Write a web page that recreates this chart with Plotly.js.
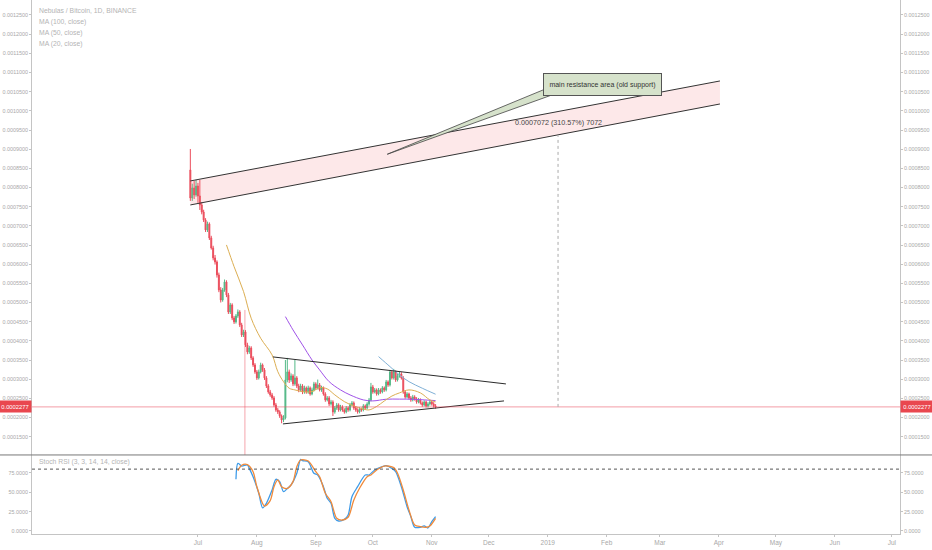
<!DOCTYPE html>
<html><head><meta charset="utf-8">
<script src="https://cdn.plot.ly/plotly-3.0.1.min.js"></script>
<style>html,body{margin:0;padding:0;background:#fff}#chart{width:932px;height:550px}</style>
</head><body><div id="chart"></div>
<script>
// ---- daily candles NAS/BTC, first day 2018-06-27 ----
const opens = [
8458e-7,7727e-7,7988e-7,7806e-7,8040e-7,7779e-7,7545e-7,7362e-7,7154e-7,6893e-7,
7050e-7,6684e-7,6423e-7,6163e-7,6058e-7,5719e-7,5328e-7,5067e-7,5328e-7,5537e-7,
5198e-7,4754e-7,4937e-7,4598e-7,4494e-7,4650e-7,4754e-7,4415e-7,4154e-7,4233e-7,
3894e-7,3711e-7,3815e-7,3555e-7,3372e-7,3190e-7,3033e-7,3190e-7,3372e-7,3242e-7,
3033e-7,2824e-7,2668e-7,2590e-7,2511e-7,2329e-7,2198e-7,2146e-7,2042e-7,1937e-7,
1990e-7,2981e-7,3190e-7,2981e-7,3085e-7,2877e-7,3033e-7,2824e-7,2720e-7,2824e-7,
2668e-7,2772e-7,2668e-7,2772e-7,2616e-7,2720e-7,2877e-7,2772e-7,2850e-7,2720e-7,
2772e-7,2616e-7,2459e-7,2511e-7,2355e-7,2407e-7,2146e-7,2250e-7,2329e-7,2198e-7,
2277e-7,2198e-7,2146e-7,2250e-7,2198e-7,2329e-7,2381e-7,2250e-7,2198e-7,2146e-7,
2224e-7,2198e-7,2303e-7,2250e-7,2355e-7,2459e-7,2798e-7,2668e-7,2720e-7,2616e-7,
2720e-7,2668e-7,2772e-7,2720e-7,2929e-7,2850e-7,3190e-7,3033e-7,3190e-7,2981e-7,
3085e-7,3137e-7,3033e-7,2668e-7,2537e-7,2616e-7,2511e-7,2459e-7,2537e-7,2485e-7,
2407e-7,2459e-7,2381e-7,2329e-7,2407e-7,2303e-7,2355e-7,2407e-7,2355e-7,2303e-7];
const highs = [
9005e-7,8100e-7,8171e-7,8197e-7,8120e-7,8197e-7,7620e-7,7420e-7,7200e-7,7110e-7,
7090e-7,6740e-7,6480e-7,6240e-7,6100e-7,5780e-7,5400e-7,5380e-7,5600e-7,5580e-7,
5250e-7,4990e-7,4980e-7,4650e-7,4700e-7,4820e-7,4800e-7,4470e-7,4290e-7,4280e-7,
3950e-7,3870e-7,3860e-7,3600e-7,3420e-7,3240e-7,3250e-7,3430e-7,3410e-7,3290e-7,
3080e-7,2870e-7,2720e-7,2640e-7,2560e-7,2380e-7,2250e-7,2190e-7,2080e-7,2060e-7,
3500e-7,3555e-7,3250e-7,3150e-7,3130e-7,3500e-7,3080e-7,2880e-7,2880e-7,2870e-7,
2830e-7,2810e-7,2830e-7,2810e-7,2780e-7,2930e-7,2920e-7,2990e-7,2900e-7,2830e-7,
2810e-7,2660e-7,2560e-7,2560e-7,2460e-7,2450e-7,2300e-7,2380e-7,2370e-7,2330e-7,
2320e-7,2240e-7,2300e-7,2290e-7,2380e-7,2430e-7,2420e-7,2290e-7,2240e-7,2270e-7,
2260e-7,2350e-7,2340e-7,2400e-7,2510e-7,2903e-7,2850e-7,2770e-7,2760e-7,2770e-7,
2760e-7,2820e-7,2810e-7,2980e-7,2970e-7,3242e-7,3230e-7,3268e-7,3230e-7,3140e-7,
3190e-7,3180e-7,3080e-7,2710e-7,2660e-7,2650e-7,2560e-7,2590e-7,2580e-7,2530e-7,
2510e-7,2500e-7,2420e-7,2450e-7,2440e-7,2400e-7,2450e-7,2440e-7,2400e-7,2350e-7];
const lows = [
7650e-7,7650e-7,7700e-7,7760e-7,7600e-7,7414e-7,7300e-7,7100e-7,6840e-7,6840e-7,
6630e-7,6380e-7,6100e-7,5990e-7,5650e-7,5270e-7,5000e-7,5020e-7,5280e-7,5140e-7,
4700e-7,4700e-7,4540e-7,4440e-7,4450e-7,4600e-7,4360e-7,4100e-7,4100e-7,3840e-7,
3650e-7,3660e-7,3500e-7,3320e-7,3140e-7,2980e-7,2990e-7,3150e-7,3190e-7,2980e-7,
2770e-7,2620e-7,2540e-7,2460e-7,2280e-7,2150e-7,2090e-7,1990e-7,1850e-7,1880e-7,
1950e-7,2920e-7,2900e-7,2930e-7,2820e-7,2830e-7,2770e-7,2660e-7,2680e-7,2610e-7,
2620e-7,2620e-7,2620e-7,2570e-7,2580e-7,2680e-7,2720e-7,2730e-7,2680e-7,2670e-7,
2570e-7,2410e-7,2420e-7,2300e-7,2310e-7,2040e-7,2100e-7,2200e-7,2150e-7,2160e-7,
2150e-7,2100e-7,2110e-7,2150e-7,2160e-7,2290e-7,2200e-7,2150e-7,2100e-7,2110e-7,
2150e-7,2160e-7,2200e-7,2210e-7,2310e-7,2420e-7,2620e-7,2630e-7,2570e-7,2580e-7,
2620e-7,2630e-7,2670e-7,2680e-7,2800e-7,2810e-7,2990e-7,2990e-7,2930e-7,2940e-7,
3040e-7,2990e-7,2620e-7,2490e-7,2500e-7,2470e-7,2410e-7,2420e-7,2440e-7,2360e-7,
2370e-7,2340e-7,2280e-7,2290e-7,2260e-7,2260e-7,2310e-7,2310e-7,2260e-7,2230e-7];
const closes = [
7727e-7,7988e-7,7806e-7,8040e-7,7779e-7,7545e-7,7362e-7,7154e-7,6893e-7,7050e-7,
6684e-7,6423e-7,6163e-7,6058e-7,5719e-7,5328e-7,5067e-7,5328e-7,5537e-7,5198e-7,
4754e-7,4937e-7,4598e-7,4494e-7,4650e-7,4754e-7,4415e-7,4154e-7,4233e-7,3894e-7,
3711e-7,3815e-7,3555e-7,3372e-7,3190e-7,3033e-7,3190e-7,3372e-7,3242e-7,3033e-7,
2824e-7,2668e-7,2590e-7,2511e-7,2329e-7,2198e-7,2146e-7,2042e-7,1937e-7,1990e-7,
2981e-7,3190e-7,2981e-7,3085e-7,2877e-7,3033e-7,2824e-7,2720e-7,2824e-7,2668e-7,
2772e-7,2668e-7,2772e-7,2616e-7,2720e-7,2877e-7,2772e-7,2850e-7,2720e-7,2772e-7,
2616e-7,2459e-7,2511e-7,2355e-7,2407e-7,2146e-7,2250e-7,2329e-7,2198e-7,2277e-7,
2198e-7,2146e-7,2250e-7,2198e-7,2329e-7,2381e-7,2250e-7,2198e-7,2146e-7,2224e-7,
2198e-7,2303e-7,2250e-7,2355e-7,2459e-7,2798e-7,2668e-7,2720e-7,2616e-7,2720e-7,
2668e-7,2772e-7,2720e-7,2929e-7,2850e-7,3190e-7,3033e-7,3190e-7,2981e-7,3085e-7,
3137e-7,3033e-7,2668e-7,2537e-7,2616e-7,2511e-7,2459e-7,2537e-7,2485e-7,2407e-7,
2459e-7,2381e-7,2329e-7,2407e-7,2303e-7,2355e-7,2407e-7,2355e-7,2303e-7,2277e-7];
const lastPrice = 0.0002277;

// ---- moving averages (day index -> value) ----
const ma20Idx = [19,23,28,32,37,43,46,49,52,55,59,64,68,72,76,81,86,91,94,98,102,106,110,115,121,126,129];
const ma20Val = [6502e-7,5936e-7,5284e-7,4590e-7,4068e-7,3633e-7,3197e-7,2936e-7,2764e-7,2720e-7,2676e-7,2676e-7,2780e-7,2746e-7,2590e-7,2415e-7,2300e-7,2220e-7,2198e-7,2290e-7,2430e-7,2560e-7,2642e-7,2720e-7,2642e-7,2459e-7,2407e-7];
const ma50Idx = [50,54,59,64,68,73,79,84,91,96,103,110,117,123,129];
const ma50Val = [4632e-7,4285e-7,3894e-7,3502e-7,3242e-7,2936e-7,2720e-7,2590e-7,2459e-7,2433e-7,2477e-7,2480e-7,2477e-7,2460e-7,2441e-7];
const ma100Idx = [99,105,110,115,122,129];
const ma100Val = [3589e-7,3328e-7,3111e-7,2936e-7,2764e-7,2608e-7];

// ---- Stoch RSI (3,3,14,14) ----
const kIdx = [24,25,27,30,31,33,36,38,40,43,45,47,49,51,53,56,58,59,62,65,67,70,72,74,76,78,81,83,85,88,92,94,97,101,103,106,108,111,114,116,118,121,123,125,127,129];
const kVal = [66.8,87.5,84,85.3,81,70,48.8,30,35.8,53,66.8,63.8,50.8,55,59.5,74.6,92.7,91,89.6,74.6,72.4,57.3,42.3,35.8,16.4,12.9,15,20.7,44.4,57.3,72.4,72.4,78.9,83.2,84.4,81,76.7,57.3,31.4,18.5,4.8,4.8,6.5,3.9,12,18.5];
const dIdx = [25,27,30,33,35,39,42,44,46,48,51,54,56,58,62,66,68,71,74,77,80,83,86,89,93,95,98,102,107,109,112,115,118,121,124,126,129];
const dVal = [78,85,85.8,76.7,57.3,32.3,39.2,57.3,66,57.3,55,63.8,83.2,91.8,90.5,76.7,70.2,48.8,37.9,16.4,14.2,17.7,40.1,55.2,70.2,72.4,78.9,84,81.9,74.6,53,27.2,7.8,5.6,4.8,6.5,16.4];

// ---- drawings (date, price) ----
const chanX = ['2018-06-27','2019-04-01 14:00'];
const chanUpper = [8171e-7,10779e-7];
const chanLower = [7545e-7,10179e-7];
const triUpX = ['2018-08-09 11:00','2018-12-10'];
const triUpY = [3581e-7,2876e-7];
const triLoX = ['2018-08-14 17:00','2018-12-09'];
const triLoY = [1833e-7,2433e-7];
const tailX = ['2018-12-29 12:00','2018-10-08 14:00','2019-01-03 05:00'];
const tailY = [10544e-7,8867e-7,10414e-7];
const calloutPos = ['2019-01-29 17:00',10687e-7];
const measureX = '2019-01-06 10:00';
const measureY = [0.0002277,0.0009349];
const measureLabelY = 0.0009683;
const markerLineX = '2018-07-25 17:00';
const markerLineTop = 4806e-7;

const priceTicksStep = 0.00005;
const stochTicks = [0,25,50,75];
const stochTickText = ['0.0000','25.0000','50.0000','75.0000'];
const monthTicks = ['2018-07-01','2018-08-01','2018-09-01','2018-10-01','2018-11-01','2018-12-01','2019-01-01','2019-02-01','2019-03-01','2019-04-01','2019-05-01','2019-06-01','2019-07-01'];
const monthLabels = ['Jul','Aug','Sep','Oct','Nov','Dec','2019','Feb','Mar','Apr','May','Jun','Jul'];

function dayStr(n){const d=new Date(Date.UTC(2018,5,27+n));return d.toISOString().slice(0,10);}
const dates = closes.map((_,i)=>dayStr(i));
const pick = idx => idx.map(i=>dates[i]);

const FONT = "'Liberation Sans',Arial,sans-serif";
const PRANGE = [0.0001023,0.0012891];
const SRANGE = [-3.9,98.3];
const SPLIT = 0.148;

const traces = [
  {type:'scatter',x:[chanX[0],chanX[1],chanX[1],chanX[0]],y:[chanUpper[0],chanUpper[1],chanLower[1],chanLower[0]],
   fill:'toself',fillcolor:'rgba(242,110,120,0.16)',line:{width:0},mode:'lines',hoverinfo:'skip',xaxis:'x',yaxis:'y'},
  {type:'candlestick',x:dates,open:opens,high:highs,low:lows,close:closes,
   increasing:{line:{color:'#53b987',width:1},fillcolor:'#53b987'},
   decreasing:{line:{color:'#eb4d5c',width:1},fillcolor:'#eb4d5c'},
   whiskerwidth:0,hoverinfo:'skip',xaxis:'x',yaxis:'y'},
  {type:'scatter',mode:'lines',x:pick(ma100Idx),y:ma100Val,line:{color:'#7fb0d6',width:1,shape:'spline'},hoverinfo:'skip',xaxis:'x',yaxis:'y'},
  {type:'scatter',mode:'lines',x:pick(ma50Idx),y:ma50Val,line:{color:'#a052e8',width:1,shape:'spline'},hoverinfo:'skip',xaxis:'x',yaxis:'y'},
  {type:'scatter',mode:'lines',x:pick(ma20Idx),y:ma20Val,line:{color:'#dcae52',width:1,shape:'spline'},hoverinfo:'skip',xaxis:'x',yaxis:'y'},
  {type:'scatter',mode:'lines',x:chanX,y:chanUpper,line:{color:'#333',width:1},hoverinfo:'skip',xaxis:'x',yaxis:'y'},
  {type:'scatter',mode:'lines',x:chanX,y:chanLower,line:{color:'#333',width:1},hoverinfo:'skip',xaxis:'x',yaxis:'y'},
  {type:'scatter',mode:'lines',x:triUpX,y:triUpY,line:{color:'#2b2b2b',width:1},hoverinfo:'skip',xaxis:'x',yaxis:'y'},
  {type:'scatter',mode:'lines',x:triLoX,y:triLoY,line:{color:'#2b2b2b',width:1},hoverinfo:'skip',xaxis:'x',yaxis:'y'},
  {type:'scatter',mode:'lines',x:[tailX[0],tailX[1],tailX[2],tailX[0]],y:[tailY[0],tailY[1],tailY[2],tailY[0]],
   fill:'toself',fillcolor:'#d6e2cb',line:{color:'#444',width:0.8},hoverinfo:'skip',xaxis:'x',yaxis:'y'},
  {type:'scatter',mode:'lines',x:pick(kIdx),y:kVal,line:{color:'#3d9be9',width:1.3,shape:'spline',smoothing:0.8},hoverinfo:'skip',xaxis:'x',yaxis:'y2'},
  {type:'scatter',mode:'lines',x:pick(dIdx),y:dVal,line:{color:'#f08a3a',width:1.3,shape:'spline',smoothing:0.8},hoverinfo:'skip',xaxis:'x',yaxis:'y2'},
  {type:'scatter',mode:'markers',x:[dates[0]],y:[closes[0]],marker:{opacity:0},hoverinfo:'skip',xaxis:'x',yaxis:'y3'},
  {type:'scatter',mode:'markers',x:[dates[0]],y:[kVal[0]],marker:{opacity:0},hoverinfo:'skip',xaxis:'x',yaxis:'y4'}
];

const tickFont = {family:FONT,size:5.4,color:'#a8a8a8'};
const axBase = {showgrid:false,zeroline:false,showline:true,linecolor:'#c4c4c4',linewidth:1,
  ticks:'outside',ticklen:2,tickcolor:'#c4c4c4',tickfont:tickFont,fixedrange:true};
const priceAx = Object.assign({},axBase,{range:PRANGE,tickformat:'.7f',tick0:0,dtick:priceTicksStep});
const stochAx = Object.assign({},axBase,{range:SRANGE,tickmode:'array',tickvals:stochTicks,ticktext:stochTickText});

const legendAnn = (txt,ypx)=>({xref:'paper',yref:'paper',x:5/868,y:1-ypx/534,xanchor:'left',yanchor:'middle',
  text:txt,showarrow:false,font:{family:FONT,size:6.8,color:'#b4b4b4'}});

const layout = {
  width:932,height:550,margin:{l:32,r:32,t:0,b:16},paper_bgcolor:'#fff',plot_bgcolor:'#fff',showlegend:false,
  xaxis:Object.assign({},axBase,{type:'date',range:['2018-04-04 17:00','2019-07-05 07:00'],anchor:'y2',
    tickmode:'array',tickvals:monthTicks,ticktext:monthLabels,rangeslider:{visible:false},
    tickfont:{family:FONT,size:6.5,color:'#a8a8a8'}}),
  yaxis:Object.assign({},priceAx,{domain:[SPLIT,1],side:'left',anchor:'x'}),
  yaxis3:Object.assign({},priceAx,{overlaying:'y',side:'right',anchor:'x'}),
  yaxis2:Object.assign({},stochAx,{domain:[0,SPLIT],side:'left',anchor:'x'}),
  yaxis4:Object.assign({},stochAx,{overlaying:'y2',side:'right',anchor:'x'}),
  shapes:[
    {type:'line',xref:'paper',yref:'y',x0:0,x1:1,y0:lastPrice,y1:lastPrice,line:{color:'rgba(235,77,92,0.55)',width:1}},
    {type:'line',xref:'x',yref:'y',x0:markerLineX,x1:markerLineX,y0:PRANGE[0],y1:markerLineTop,line:{color:'rgba(235,77,92,0.5)',width:1}},
    {type:'line',xref:'x',yref:'y',x0:measureX,x1:measureX,y0:measureY[0],y1:measureY[1],line:{color:'#aaa',width:1,dash:'3px,3px'}},
    {type:'line',xref:'paper',yref:'paper',x0:-0.04,x1:1.04,y0:SPLIT,y1:SPLIT,line:{color:'#777',width:1}},
    {type:'line',xref:'paper',yref:'y2',x0:0,x1:1,y0:80,y1:80,line:{color:'#555',width:1,dash:'3px,3px'}}
  ],
  annotations:[
    legendAnn('Nebulas / Bitcoin, 1D, BINANCE',10),
    legendAnn('MA (100, close)',22),
    legendAnn('MA (50, close)',33),
    legendAnn('MA (20, close)',44),
    legendAnn('Stoch RSI (3, 3, 14, 14, close)',462),
    {xref:'paper',yref:'y',x:0,y:lastPrice,xanchor:'right',yanchor:'middle',text:'0.0002277',showarrow:false,
     width:29,height:8,bgcolor:'#e9474f',borderpad:1.5,font:{family:FONT,size:5.8,color:'#fff'}},
    {xref:'paper',yref:'y',x:1,y:lastPrice,xanchor:'left',yanchor:'middle',text:'0.0002277',showarrow:false,
     width:29,height:8,bgcolor:'#e9474f',borderpad:1.5,font:{family:FONT,size:5.8,color:'#fff'}},
    {xref:'x',yref:'y',x:calloutPos[0],y:calloutPos[1],text:'main resistance area (old support)',showarrow:false,
     width:109,height:13,bgcolor:'#d6e2cb',bordercolor:'#555',borderwidth:1,borderpad:4,font:{family:FONT,size:7,color:'#333'}},
    {xref:'x',yref:'y',x:measureX,y:measureLabelY,text:'0.0007072 (310.57%) 7072',showarrow:false,
     font:{family:FONT,size:7.2,color:'#444'}}
  ]
};

Plotly.newPlot('chart',traces,layout,{displayModeBar:false,staticPlot:true});
</script></body></html>
